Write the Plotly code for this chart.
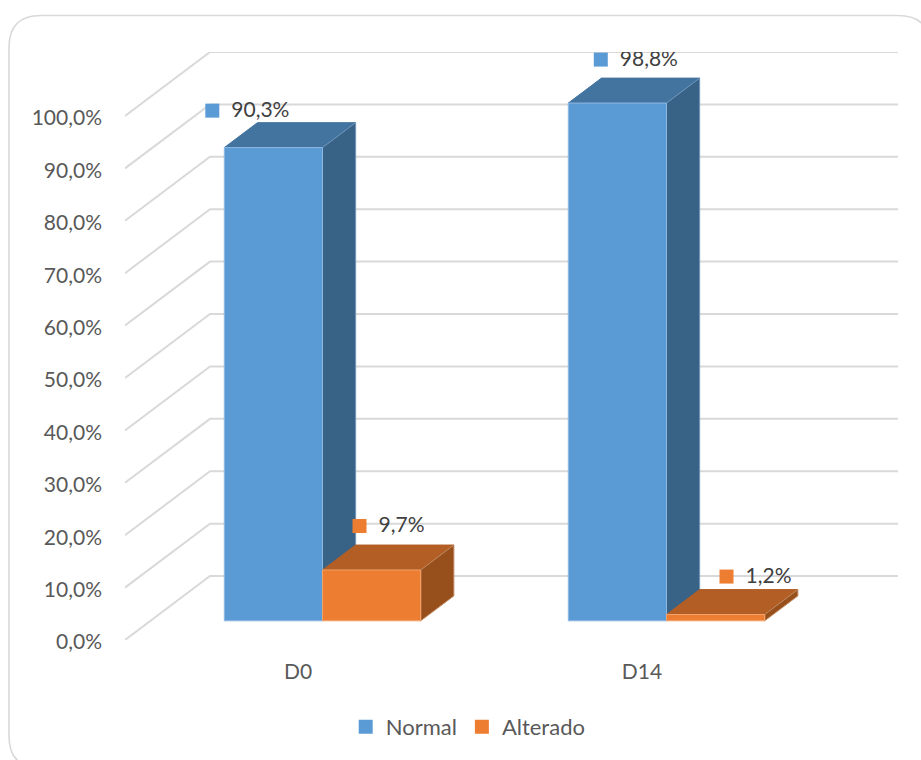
import plotly.graph_objects as go

categories = ["D0", "D14"]
series_names = ["Normal", "Alterado"]
normal = [90.3, 98.8]
alterado = [9.7, 1.2]
normal_labels = ["90,3%", "98,8%"]
alterado_labels = ["9,7%", "1,2%"]
y_ticks = [0, 10, 20, 30, 40, 50, 60, 70, 80, 90, 100]
y_tick_text = ["0,0%", "10,0%", "20,0%", "30,0%", "40,0%", "50,0%", "60,0%", "70,0%", "80,0%", "90,0%", "100,0%"]

# --- layout constants (pixels in the 921x760 page) ---
W, H = 921, 760
PL, PR, PT, PB = 125, 898, 51.5, 640
CAT_PX = 344.0
Y_PX = 5.245
DEPTH_X_PX, DEPTH_Y_PX = 85.0, 64.0
XMIN = -0.5
XMAX = XMIN + (PR - PL) / CAT_PX
YMAX = (PB - PT) / Y_PX
DX, DY = DEPTH_X_PX / CAT_PX, DEPTH_Y_PX / Y_PX
BAR_W = 98.2 / CAT_PX
BAR_D0, BAR_D1 = 0.30, 0.69

FONT = "Lato, Carlito, Calibri, sans-serif"
TICK_COLOR = "#595959"
LABEL_COLOR = "#404040"
GRID = "#d9d9d9"
FACES = {
    "Normal": dict(front="#5B9BD5", top="#4374A0", side="#386387", edge="#8DB8E2", side_edge="#6F97BC"),
    "Alterado": dict(front="#ED7D31", top="#B25E25", side="#974F1C", edge="#F2A46E", side_edge="#C08A62"),
}
# label offset from the front-left-top corner of its bar (pixels: right, up)
LABEL_OFF = {
    "Normal": [(-12, 37), (32.5, 43.5)],
    "Alterado": [(37, 44), (60, 38)],
}
TEXT_GAP = 19

fig = go.Figure()

# gridlines: front-left edge going back, then along the back wall
for t in y_ticks:
    fig.add_trace(go.Scatter(
        x=[XMIN, XMIN + DX, XMAX], y=[t, t + DY, t + DY], mode="lines",
        line=dict(color=GRID, width=2), hoverinfo="skip", showlegend=False))


def face(xs, ys, color, edge):
    fig.add_trace(go.Scatter(
        x=xs, y=ys, mode="lines", fill="toself", fillcolor=color,
        line=dict(color=edge, width=1), hoverinfo="skip", showlegend=False))


def bar(x0, x1, v, f):
    ox0, ox1 = x0 + BAR_D0 * DX, x1 + BAR_D0 * DX
    ddx, ddy = (BAR_D1 - BAR_D0) * DX, (BAR_D1 - BAR_D0) * DY
    # the bar stands on the floor, part way back from the front edge
    y0 = BAR_D0 * DY
    y1 = y0 + v
    face([ox0, ox1, ox1 + ddx, ox0 + ddx, ox0], [y1, y1, y1 + ddy, y1 + ddy, y1], f["top"], f["top"])
    face([ox1, ox1 + ddx, ox1 + ddx, ox1, ox1], [y0, y0 + ddy, y1 + ddy, y1, y0], f["side"], f["side_edge"])
    face([ox0, ox1, ox1, ox0, ox0], [y0, y0, y1, y1, y0], f["front"], f["edge"])
    return ox0, y1


corners = {"Normal": [], "Alterado": []}
for i in range(len(categories)):
    corners["Normal"].append(bar(i - BAR_W, i, normal[i], FACES["Normal"]))
    corners["Alterado"].append(bar(i, i + BAR_W, alterado[i], FACES["Alterado"]))

# data labels with their legend keys
for name, labels in (("Normal", normal_labels), ("Alterado", alterado_labels)):
    for (cx, cy), (ox, oy), lab in zip(corners[name], LABEL_OFF[name], labels):
        mx, my = cx + ox / CAT_PX, cy + oy / Y_PX
        fig.add_trace(go.Scatter(
            x=[mx], y=[my], mode="markers", hoverinfo="skip", showlegend=False,
            marker=dict(symbol="square", size=14, color=FACES[name]["front"], line=dict(width=0))))
        fig.add_trace(go.Scatter(
            x=[mx + TEXT_GAP / CAT_PX], y=[my - 1 / Y_PX], mode="text", text=[lab],
            textposition="middle right", hoverinfo="skip", showlegend=False,
            textfont=dict(family=FONT, size=21, color=LABEL_COLOR)))

# legend entries
for name in series_names:
    fig.add_trace(go.Scatter(
        x=[None], y=[None], mode="markers", name=name, hoverinfo="skip",
        marker=dict(symbol="square", size=14, color=FACES[name]["front"])))

# rounded outer frame, running off the right and bottom of the page
fx = lambda p: (p - PL) / (PR - PL)
fy = lambda p: (PB - p) / (PB - PT)
L, T, R, B, RAD = 9, 15, 930, 768, 32
path = (f"M {fx(L)} {fy(T + RAD)} Q {fx(L)} {fy(T)} {fx(L + RAD)} {fy(T)} "
        f"L {fx(R - RAD)} {fy(T)} Q {fx(R)} {fy(T)} {fx(R)} {fy(T + RAD)} "
        f"L {fx(R)} {fy(B - RAD)} Q {fx(R)} {fy(B)} {fx(R - RAD)} {fy(B)} "
        f"L {fx(L + RAD)} {fy(B)} Q {fx(L)} {fy(B)} {fx(L)} {fy(B - RAD)} Z")

fig.update_layout(
    width=W, height=H,
    margin=dict(l=PL, r=W - PR, t=PT, b=H - PB, pad=0, autoexpand=False),
    paper_bgcolor="white", plot_bgcolor="white",
    font=dict(family=FONT, size=21, color=TICK_COLOR),
    shapes=[dict(type="path", path=path, xref="paper", yref="paper", layer="below",
                 line=dict(color=GRID, width=1.6), fillcolor="white")],
    legend=dict(orientation="h", x=0.444, xanchor="center", y=-0.148, yanchor="middle",
                font=dict(family=FONT, size=22, color=TICK_COLOR), bgcolor="rgba(0,0,0,0)",
                itemclick=False, itemdoubleclick=False),
    xaxis=dict(range=[XMIN, XMAX], tickmode="array", tickvals=list(range(len(categories))),
               ticktext=categories, showgrid=False, zeroline=False, showline=False, ticks="",
               ticklabelstandoff=17, ticklabelshift=1, tickfont=dict(family=FONT, size=21, color=TICK_COLOR), fixedrange=True),
    yaxis=dict(range=[0, YMAX], tickmode="array", tickvals=y_ticks, ticktext=y_tick_text,
               showgrid=False, zeroline=False, showline=False, ticks="",
               ticklabelstandoff=22, ticklabelshift=2, tickfont=dict(family=FONT, size=21, color=TICK_COLOR), fixedrange=True),
)
fig.write_html("out.html", config={"displayModeBar": False},
               post_script="document.body.style.margin='0';document.documentElement.style.overflow='hidden';")
